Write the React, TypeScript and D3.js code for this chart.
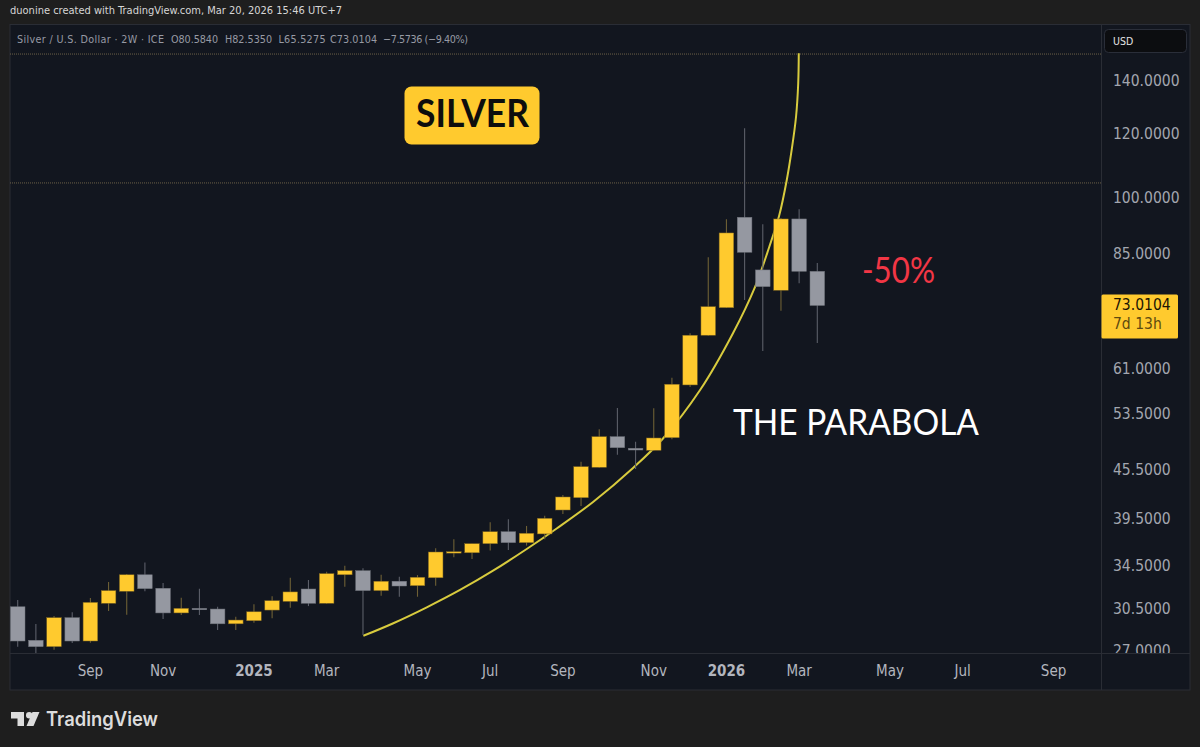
import React from "react";
import * as d3 from "d3";

// one entry per two-week candle
const opens = [30.59,27.77,27.26,29.64,27.71,30.9,31.99,33.55,32.27,30.05,30.45,30.39,29.12,29.38,30.3,31.07,32.2,30.9,33.55,33.95,32.05,32.93,32.51,33.26,35.72,35.75,36.7,37.99,36.81,37.75,40.45,41.91,45.76,49.99,48.34,48.06,49.84,58.04,67.0,72.55,94.19,80.9,76.29,93.73,80.584];
const highs = [31.19,29.1,29.79,30.1,31.37,32.86,33.62,34.75,32.77,31.4,32.23,30.59,29.72,30.82,31.54,33.27,33.05,33.85,34.44,34.19,33.55,33.35,33.52,36.22,37.17,36.7,39.04,39.38,38.63,39.79,42.24,46.51,51.07,54.31,49.27,54.26,59.27,67.38,83.92,93.65,121.8,92.31,94.0,96.4,82.535];
const lows = [27.26,26.77,27.02,27.55,27.58,30.21,29.9,32.0,29.52,29.87,29.87,28.6,28.6,29.21,29.59,30.5,30.65,30.85,32.41,28.19,31.57,31.49,31.49,32.51,35.28,35.11,35.98,36.04,36.5,37.17,39.99,40.92,45.7,47.46,45.53,48.0,49.61,57.7,66.9,72.5,74.18,64.02,71.93,77.85,65.5275];
const closes = [27.71,27.26,29.64,27.71,30.98,32.05,33.55,32.23,30.05,30.45,30.36,29.12,29.44,30.15,31.13,31.93,30.9,33.66,33.95,32.05,32.93,32.48,33.31,35.83,35.86,36.7,37.99,36.81,37.82,39.49,42.0,45.84,49.99,48.42,48.1,49.8,58.16,67.0,72.76,90.02,85.14,77.09,93.73,80.58,73.0104];

const curveIdx = [19.02,20.67,22.51,24.34,26.18,28.01,29.66,31.66,33.86,35.51,37.55,39.36,40.57,41.36,41.91,42.32,42.59,42.83,42.95,42.98];
const curveVal = [28.13,29.17,30.54,32.11,33.97,36.14,38.35,41.4,45.67,49.73,57.2,67.4,77.0,86.5,94.8,104.9,114.4,125.9,138.7,151.2];

const priceTicks = [140,120,100,85,61,53.5,45.5,39.5,34.5,30.5,27];
const timeIdx = [4,8,13,17,22,26,30,35,39,43,48,52,57];
const timeLabels = ["Sep","Nov","2025","Mar","May","Jul","Sep","Nov","2026","Mar","May","Jul","Sep"];
const hLevels = [150.9,104.0];
const lastPrice = 73.0104;

const legendTexts = ["Silver / U.S. Dollar · 2W · ICE","O80.5840","H82.5350","L65.5275","C73.0104","−7.5736 (−9.40%)"];
const legendX = [17,171,225,278.5,330,383];
const legendW = [147,47,47,47,47,85];

const UP = "#FFCA2E";
const DOWN = "#9598A1";
const UI = "'DejaVu Sans', Verdana, sans-serif";
const PANE = { l: 10, r: 1101.5, t: 24, b: 653 };

export default function App() {
  const x = d3.scaleLinear().domain([0, 44]).range([17.7, 817.3]);
  const y = d3.scaleLog().domain([140, 27]).range([80, 650]);
  const line = d3
    .line<number>()
    .x((d) => x(d))
    .y((_, i) => y(curveVal[i]))
    .curve(d3.curveCatmullRom.alpha(0.5));

  return (
    <svg
      width={1200}
      height={747}
      viewBox="0 0 1200 747"
      style={{ position: "fixed", left: 0, top: 0, display: "block" }}
    >
      <defs>
        <clipPath id="pane">
          <rect x={PANE.l} y={PANE.t} width={PANE.r - PANE.l} height={PANE.b - PANE.t} />
        </clipPath>
        <clipPath id="axis">
          <rect x={PANE.r} y={PANE.t} width={88} height={PANE.b - PANE.t} />
        </clipPath>
      </defs>
      <rect width={1200} height={747} fill="#1e1e1e" />
      <text x={10} y={14} fontFamily={UI} fontStretch="condensed" fontSize={11} fill="#d6d6d6">
        duonine created with TradingView.com, Mar 20, 2026 15:46 UTC+7
      </text>

      <rect x={10} y={24.5} width={1180} height={665.5} fill="#12161f" stroke="#2a2d35" />
      <line x1={10} x2={1190} y1={653.5} y2={653.5} stroke="#2a2d35" />
      <line x1={1101.5} x2={1101.5} y1={24} y2={690} stroke="#2a2d35" />

      {legendTexts.map((t, i) => (
        <text
          key={t}
          x={legendX[i]}
          y={43}
          textLength={legendW[i]}
          fontFamily={UI}
          fontStretch="condensed"
          fontSize={10.7}
          fill="#979aa4"
        >
          {t}
        </text>
      ))}

      <g clipPath="url(#pane)">
        {hLevels.map((v) => (
          <line
            key={v}
            x1={PANE.l}
            x2={PANE.r}
            y1={y(v)}
            y2={y(v)}
            stroke="#6b6048"
            strokeWidth={1}
            strokeDasharray="1 1"
          />
        ))}
        <path d={line(curveIdx) ?? ""} fill="none" stroke="#d8cb3e" strokeWidth={2} />
        {opens.map((o, i) => {
          const c = closes[i];
          const up = c >= o;
          const top = y(Math.max(o, c));
          const bot = y(Math.min(o, c));
          return (
            <g key={i}>
              <line
                x1={x(i)}
                x2={x(i)}
                y1={y(highs[i])}
                y2={y(lows[i])}
                stroke={up ? "#6e6035" : "#5c5f69"}
                strokeWidth={1.1}
              />
              <rect
                x={x(i) - 7.3}
                y={top}
                width={14.6}
                height={Math.max(bot - top, 1.4)}
                fill={up ? UP : DOWN}
                stroke={up ? "#7d6420" : "#6d7079"}
                strokeWidth={0.5}
              />
            </g>
          );
        })}
      </g>

      <rect x={404.5} y={86.5} width={135} height={58} rx={7} fill={UP} />
      <text
        x={416}
        y={127}
        textLength={113}
        lengthAdjust="spacingAndGlyphs"
        fontFamily="Lato, sans-serif"
        fontWeight={700}
        fontSize={38}
        fill="#0d0d0d"
      >
        SILVER
      </text>
      <text
        x={862}
        y={283}
        textLength={73}
        lengthAdjust="spacingAndGlyphs"
        fontFamily="Lato, sans-serif"
        fontSize={37}
        fill="#f23645"
      >
        -50%
      </text>
      <text
        x={733}
        y={435}
        textLength={246}
        lengthAdjust="spacingAndGlyphs"
        fontFamily="Lato, sans-serif"
        fontSize={36}
        fill="#ffffff"
      >
        THE PARABOLA
      </text>

      {timeIdx.map((t, i) => {
        const year = /^\d+$/.test(timeLabels[i]);
        return (
          <text
            key={t}
            x={x(t)}
            y={676}
            textAnchor="middle"
            fontFamily={UI}
            fontStretch="condensed"
            fontSize={15}
            fontWeight={year ? 700 : 400}
            fill="#b2b5be"
          >
            {timeLabels[i]}
          </text>
        );
      })}

      <g clipPath="url(#axis)">
        {priceTicks.map((p) => (
          <text
            key={p}
            x={1113}
            y={y(p) + 6}
            fontFamily={UI}
            fontStretch="condensed"
            fontSize={15.5}
            fill="#a3a6af"
          >
            {p.toFixed(4)}
          </text>
        ))}
      </g>

      <rect x={1104.5} y={29.5} width={82} height={23} rx={4} fill="#0c0d10" stroke="#2a2e39" />
      <text x={1113} y={45} fontFamily={UI} fontStretch="condensed" fontSize={10.5} fill="#e4e4e4">
        USD
      </text>

      <rect x={1101.5} y={y(lastPrice) - 11} width={76.5} height={44} rx={1.5} fill={UP} />
      <text x={1113} y={y(lastPrice) + 5} fontFamily={UI} fontStretch="condensed" fontSize={15.5} fill="#1a1405">
        {lastPrice.toFixed(4)}
      </text>
      <text x={1113} y={y(lastPrice) + 24} fontFamily={UI} fontStretch="condensed" fontSize={15.5} fill="#5e4a10">
        7d 13h
      </text>

      <g fill="#dcdcdc">
        <path d="M11 712 H24 V726 H17.5 V718.5 H11 Z" />
        <circle cx={29.2} cy={715.2} r={3.2} />
        <path d="M32.5 712 H39.5 L33.5 726 H26.5 Z" />
      </g>
      <text
        x={46}
        y={726}
        textLength={112}
        lengthAdjust="spacingAndGlyphs"
        fontFamily="Inter, Roboto, sans-serif"
        fontWeight={600}
        fontSize={20}
        fill="#dcdcdc"
      >
        TradingView
      </text>
    </svg>
  );
}
